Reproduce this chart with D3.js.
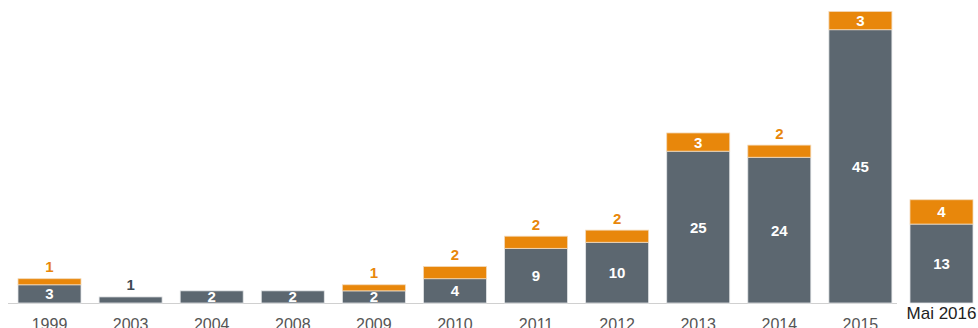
<!DOCTYPE html>
<html>
<head>
<meta charset="utf-8">
<script src="https://cdn.jsdelivr.net/npm/d3@7"></script>
<style>
  html, body { margin: 0; padding: 0; background: #fff; }
  svg { display: block; font-family: "Liberation Sans", Arial, sans-serif; }
</style>
</head>
<body>
<svg id="chart" width="978" height="328"></svg>
<script>
// Categories and stacked series values
const years = ["1999", "2003", "2004", "2008", "2009", "2010", "2011", "2012", "2013", "2014", "2015", "Mai 2016"];
const baseValues = [3, 1, 2, 2, 2, 4, 9, 10, 25, 24, 45, 13];
const topValues = [1, 0, 0, 0, 1, 2, 2, 2, 3, 2, 3, 4];

const GRAY = "#5c6770";
const ORANGE = "#e8870b";

const svg = d3.select("#chart");

const x = d3.scaleBand()
  .domain(years)
  .range([18, 973])
  .paddingInner(0.223)
  .paddingOuter(0);

const y = d3.scaleLinear()
  .domain([0, 48])
  .range([303, 11.5]);

// Baseline
svg.append("line")
  .attr("x1", 8).attr("x2", 897)
  .attr("y1", 303.5).attr("y2", 303.5)
  .attr("stroke", "#d0d0d0")
  .attr("stroke-width", 1);

const rows = years.map((yr, i) => ({ yr, base: baseValues[i], top: topValues[i] }));

const g = svg.append("g");

// Lower (gray) segments
g.selectAll("rect.base")
  .data(rows)
  .join("rect")
  .attr("class", "base")
  .attr("x", d => x(d.yr))
  .attr("width", x.bandwidth())
  .attr("y", d => y(d.base))
  .attr("height", d => y(0) - y(d.base))
  .attr("fill", GRAY)
  .attr("stroke", "#e4e6e8")
  .attr("stroke-width", 0.8);

// Upper (orange) segments
g.selectAll("rect.top")
  .data(rows.filter(d => d.top > 0))
  .join("rect")
  .attr("class", "top")
  .attr("x", d => x(d.yr))
  .attr("width", x.bandwidth())
  .attr("y", d => y(d.base + d.top))
  .attr("height", d => y(d.base) - y(d.base + d.top))
  .attr("fill", ORANGE)
  .attr("stroke", "#f3d9b8")
  .attr("stroke-width", 0.8);

// Labels for gray segments
g.selectAll("text.baseLbl")
  .data(rows)
  .join("text")
  .attr("class", "baseLbl")
  .attr("x", d => x(d.yr) + x.bandwidth() / 2)
  .attr("y", d => d.base >= 2 ? (y(d.base) + y(0)) / 2 + 5.5 : y(d.base) - 7)
  .attr("text-anchor", "middle")
  .attr("font-size", 15)
  .attr("font-weight", "bold")
  .attr("fill", d => d.base >= 2 ? "#ffffff" : "#3e4a54")
  .text(d => d.base);

// Labels for orange segments
g.selectAll("text.topLbl")
  .data(rows.filter(d => d.top > 0))
  .join("text")
  .attr("class", "topLbl")
  .attr("x", d => x(d.yr) + x.bandwidth() / 2)
  .attr("y", d => d.top >= 3
    ? (y(d.base + d.top) + y(d.base)) / 2 + 5.5
    : y(d.base + d.top) - 6.5)
  .attr("text-anchor", "middle")
  .attr("font-size", 15)
  .attr("font-weight", "bold")
  .attr("fill", d => d.top >= 3 ? "#ffffff" : ORANGE)
  .text(d => d.top);

// Category axis
const axis = svg.append("g")
  .attr("transform", "translate(0,303)")
  .call(d3.axisBottom(x).tickSize(0).tickPadding(0));
axis.select(".domain").remove();
axis.selectAll(".tick text")
  .attr("y", 0)
  .attr("dy", 0)
  .attr("transform", "translate(0,27)")
  .attr("font-family", "'Liberation Sans', Arial, sans-serif")
  .attr("font-size", 16)
  .attr("fill", "#555555");

// Last category label sits higher and darker
axis.selectAll(".tick")
  .filter(d => d === "Mai 2016")
  .select("text")
  .attr("transform", "translate(0,16)")
  .attr("font-size", 17)
  .attr("fill", "#222222");
</script>
</body>
</html>
